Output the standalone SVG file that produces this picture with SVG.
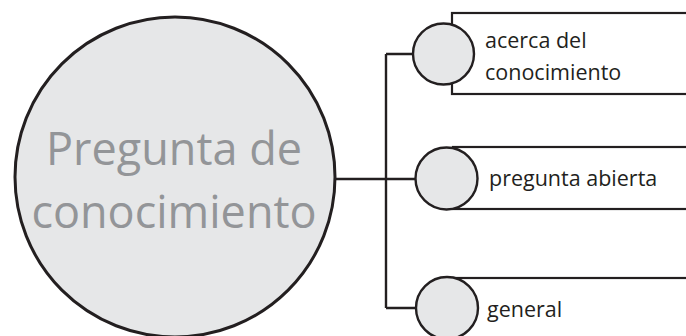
<svg xmlns="http://www.w3.org/2000/svg" width="686" height="336" viewBox="0 0 686 336">
<style>
.line{fill:none;stroke:#231f20;stroke-width:2.4}
.box{fill:#ffffff;stroke:#231f20;stroke-width:2.2}
.bub{fill:#e6e7e8;stroke:#231f20;stroke-width:2.4}
.lbl{font-family:"Open Sans","Liberation Sans",sans-serif;font-size:21.5px;fill:#231f20}
.big{font-family:"Open Sans","Liberation Sans",sans-serif;font-size:45px;fill:#939598;text-anchor:middle}
</style>
<rect width="686" height="336" fill="#ffffff"/>
<g id="connectors">
<path class="line" d="M334 179 H386 M386 54 V308 M386 54 H413 M386 179 H416 M386 308 H416"/>
</g>
<g id="main">
<circle cx="175" cy="177" r="160" fill="#e6e7e8" stroke="#231f20" stroke-width="3"/>
<text class="big" x="174" y="165">Pregunta de</text>
<text class="big" x="174" y="228">conocimiento</text>
</g>
<g id="n1">
<rect class="box" x="452" y="13" width="250" height="81"/>
<circle class="bub" cx="443.5" cy="54" r="30.5"/>
<text class="lbl" x="485" y="48">acerca del</text>
<text class="lbl" x="485" y="80">conocimiento</text>
</g>
<g id="n2">
<rect class="box" x="453" y="147" width="250" height="62"/>
<circle class="bub" cx="446.5" cy="178.5" r="31"/>
<text class="lbl" x="489" y="186">pregunta abierta</text>
</g>
<g id="n3">
<rect class="box" x="453" y="278" width="250" height="80"/>
<circle class="bub" cx="447" cy="308" r="31"/>
<text class="lbl" x="487" y="317">general</text>
</g>
</svg>
